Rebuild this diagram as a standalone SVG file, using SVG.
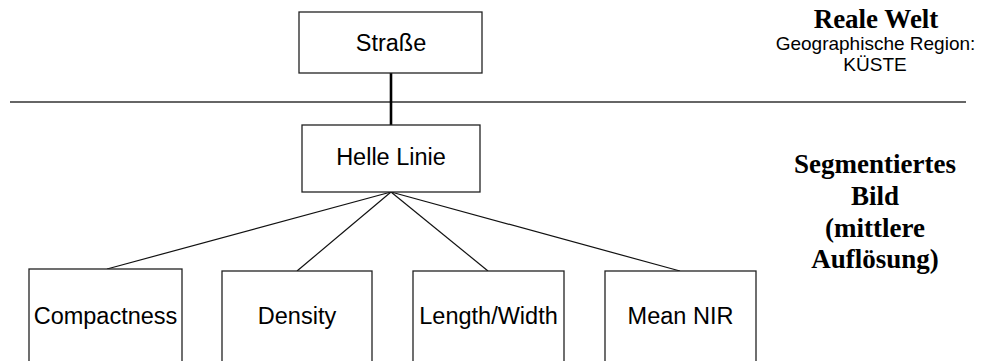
<svg xmlns="http://www.w3.org/2000/svg" width="981" height="361" viewBox="0 0 981 361">
<style>
.box{fill:#fff;stroke:#222;stroke-width:1.3}
.lbl{font-family:"Liberation Sans",Arial,sans-serif;font-size:23.5px;fill:#000;text-anchor:middle}
.note{font-family:"Liberation Sans",Arial,sans-serif;font-size:19px;fill:#000;text-anchor:middle}
.head{font-family:"Liberation Serif","Times New Roman",serif;font-size:27px;font-weight:bold;fill:#000;text-anchor:middle}
.edge{stroke:#111;stroke-width:1.2;fill:none}
.stem{stroke:#000;stroke-width:2.6;fill:none}
</style>
<rect width="981" height="361" fill="#fff"/>
<line x1="10" y1="102" x2="966" y2="102" stroke="#333" stroke-width="1.6"/>
<g id="connectors">
<line class="stem" x1="391" y1="73" x2="391" y2="125"/>
<line class="edge" x1="391" y1="192" x2="107" y2="269"/>
<line class="edge" x1="391" y1="192" x2="297" y2="271"/>
<line class="edge" x1="391" y1="192" x2="488" y2="271"/>
<line class="edge" x1="391" y1="192" x2="680" y2="271"/>
</g>
<g id="strasse">
<rect class="box" x="299" y="12" width="183" height="61"/>
<text class="lbl" x="391" y="51">Straße</text>
</g>
<g id="helle-linie">
<rect class="box" x="302" y="125" width="178" height="67"/>
<text class="lbl" x="391" y="165">Helle Linie</text>
</g>
<g id="compactness">
<rect class="box" x="29" y="269" width="153" height="110"/>
<text class="lbl" x="105.5" y="324">Compactness</text>
</g>
<g id="density">
<rect class="box" x="222" y="271" width="150" height="110"/>
<text class="lbl" x="297" y="324">Density</text>
</g>
<g id="length-width">
<rect class="box" x="413" y="271" width="151" height="110"/>
<text class="lbl" x="488.5" y="324">Length/Width</text>
</g>
<g id="mean-nir">
<rect class="box" x="605" y="271" width="151" height="110"/>
<text class="lbl" x="680.5" y="324">Mean NIR</text>
</g>
<g id="reale-welt">
<text class="head" x="876" y="28">Reale Welt</text>
<text class="note" x="875.5" y="50">Geographische Region:</text>
<text class="note" x="875" y="71">KÜSTE</text>
</g>
<g id="segmentiertes-bild">
<text class="head" x="875" y="173">Segmentiertes</text>
<text class="head" x="875" y="205">Bild</text>
<text class="head" x="875" y="237">(mittlere</text>
<text class="head" x="875" y="268">Auflösung)</text>
</g>
</svg>
